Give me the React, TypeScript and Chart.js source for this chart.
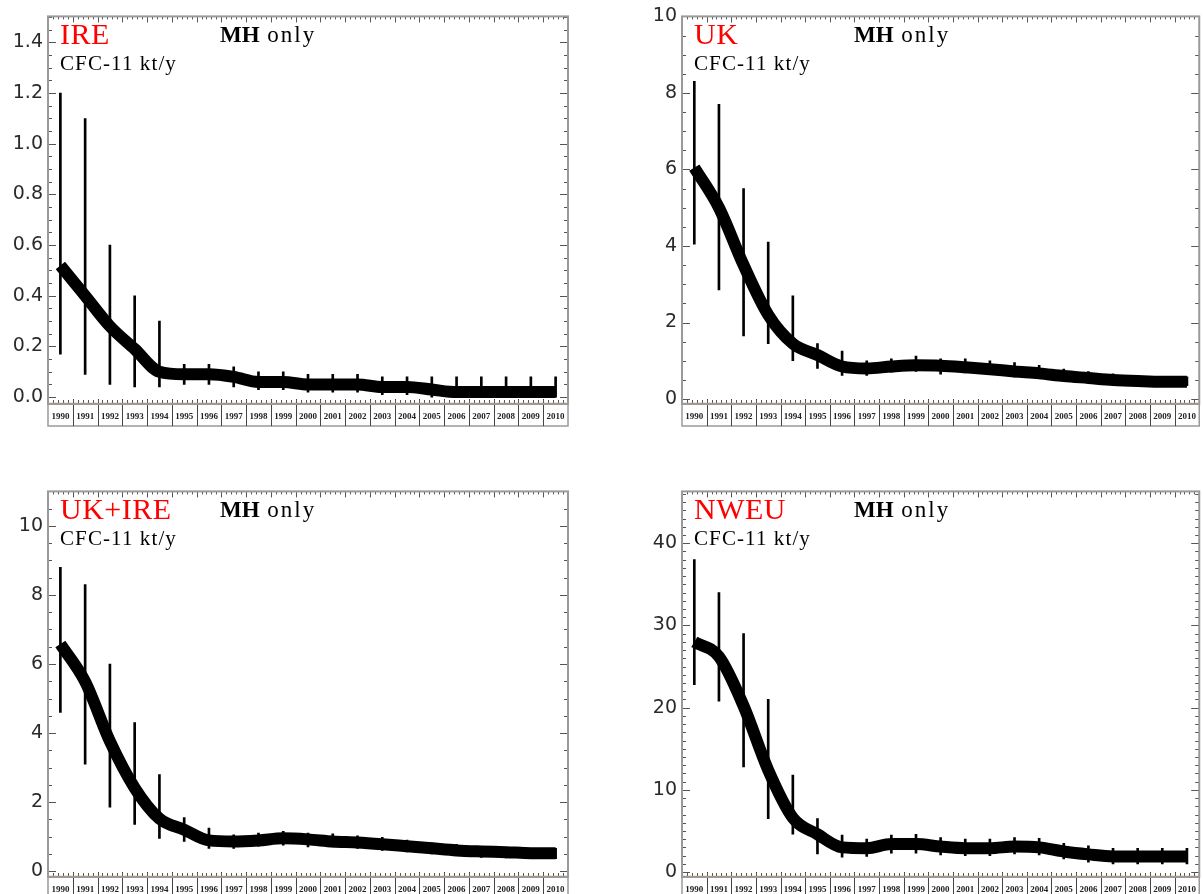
import React, { useEffect, useRef } from "react";
import { Chart, registerables } from "chart.js";

Chart.register(...registerables);

// ---------- data ----------
const years = [1990, 1991, 1992, 1993, 1994, 1995, 1996, 1997, 1998, 1999, 2000, 2001, 2002, 2003, 2004, 2005, 2006, 2007, 2008, 2009, 2010];

const ireValues = [0.52, 0.40, 0.28, 0.19, 0.10, 0.09, 0.09, 0.08, 0.06, 0.06, 0.05, 0.05, 0.05, 0.04, 0.04, 0.03, 0.02, 0.02, 0.02, 0.02, 0.02];
const ireLow = [0.17, 0.09, 0.05, 0.04, 0.04, 0.05, 0.05, 0.04, 0.03, 0.03, 0.02, 0.02, 0.02, 0.01, 0.01, 0.0, 0.0, 0.0, 0.0, 0.0, 0.0];
const ireHigh = [1.20, 1.10, 0.60, 0.40, 0.30, 0.13, 0.13, 0.12, 0.10, 0.10, 0.09, 0.09, 0.09, 0.08, 0.08, 0.08, 0.08, 0.08, 0.08, 0.08, 0.08];

const ukValues = [6.05, 5.0, 3.5, 2.2, 1.45, 1.15, 0.85, 0.8, 0.85, 0.88, 0.87, 0.83, 0.78, 0.72, 0.67, 0.6, 0.55, 0.5, 0.47, 0.45, 0.45];
const ukLow = [4.05, 2.85, 1.65, 1.45, 1.0, 0.8, 0.62, 0.62, 0.7, 0.72, 0.65, 0.68, 0.65, 0.58, 0.55, 0.5, 0.45, 0.4, 0.35, 0.35, 0.35];
const ukHigh = [8.3, 7.7, 5.5, 4.1, 2.7, 1.45, 1.25, 1.0, 1.05, 1.12, 1.05, 1.05, 1.0, 0.95, 0.88, 0.78, 0.72, 0.66, 0.6, 0.58, 0.58];

const ukIreValues = [6.58, 5.49, 3.76, 2.41, 1.52, 1.2, 0.89, 0.86, 0.89, 0.95, 0.92, 0.86, 0.83, 0.78, 0.72, 0.66, 0.6, 0.57, 0.55, 0.52, 0.52];
const ukIreLow = [4.6, 3.1, 1.85, 1.35, 0.95, 0.86, 0.66, 0.66, 0.72, 0.75, 0.7, 0.7, 0.66, 0.6, 0.56, 0.5, 0.45, 0.4, 0.38, 0.36, 0.36];
const ukIreHigh = [8.8, 8.3, 6.0, 4.3, 2.8, 1.55, 1.25, 1.05, 1.1, 1.15, 1.1, 1.08, 1.02, 0.98, 0.9, 0.82, 0.78, 0.72, 0.68, 0.66, 0.66];

const nweuValues = [28.0, 26.2, 20.2, 12.4, 6.6, 4.6, 3.0, 2.9, 3.4, 3.4, 3.1, 2.9, 2.9, 3.1, 3.0, 2.5, 2.15, 1.9, 1.9, 1.9, 1.9];
const nweuLow = [22.8, 20.8, 12.8, 6.5, 4.6, 2.2, 1.8, 1.9, 2.3, 2.3, 2.1, 2.0, 2.0, 2.2, 2.1, 1.6, 1.2, 1.0, 1.0, 1.0, 1.0];
const nweuHigh = [38, 34, 29, 21, 11.8, 6.5, 4.5, 4.0, 4.5, 4.6, 4.2, 4.0, 4.0, 4.2, 4.1, 3.5, 3.2, 2.9, 2.9, 2.9, 2.9];

const ireTicks = [0, 0.2, 0.4, 0.6, 0.8, 1.0, 1.2, 1.4];
const ukTicks = [0, 2, 4, 6, 8, 10];
const ukIreTicks = [0, 2, 4, 6, 8, 10];
const nweuTicks = [0, 10, 20, 30, 40];

const regionNames = ["IRE", "UK", "UK+IRE", "NWEU"];
const subtitle = "CFC-11 kt/y";

// ---------- frame plugin ----------
const STRIP = 22;

const framePlugin = {
  id: "frame",
  afterDraw(chart: any, _args: any, opts: any) {
    const { ctx, chartArea, scales } = chart;
    const { left, right, top, bottom } = chartArea;
    const x = scales.x;
    const y = scales.y;
    const line = (x1: number, y1: number, x2: number, y2: number) => {
      ctx.beginPath();
      ctx.moveTo(x1, y1);
      ctx.lineTo(x2, y2);
      ctx.stroke();
    };
    ctx.save();
    // label strip
    ctx.strokeStyle = "#9a9a9a";
    ctx.lineWidth = 1.5;
    ctx.strokeRect(left, bottom, right - left, STRIP);
    // separators
    ctx.strokeStyle = "#444";
    ctx.lineWidth = 1;
    for (let b = years[0] + 0.5; b < years[years.length - 1]; b += 1) {
      const px = Math.round(x.getPixelForValue(b)) + 0.5;
      line(px, bottom - 5, px, bottom + STRIP);
    }
    // top / bottom small ticks
    ctx.strokeStyle = "#555";
    const start = years[0] - 0.5;
    const n = years.length * 5;
    for (let k = 0; k <= n; k++) {
      const v = start + k * 0.2;
      const px = Math.round(x.getPixelForValue(v)) + 0.5;
      const len = k % 5 === 0 ? 6 : 3;
      line(px, top, px, top + len);
      line(px, bottom - 1, px, bottom - 4);
    }
    // orange baseline
    ctx.strokeStyle = "#e8973f";
    ctx.lineWidth = 1.5;
    line(left, bottom - 0.5, right, bottom - 0.5);
    // y ticks left and right
    ctx.strokeStyle = "#555";
    ctx.lineWidth = 1;
    const { major, minor } = opts;
    const first = Math.ceil(y.min / minor - 1e-9);
    const last = Math.floor(y.max / minor + 1e-9);
    for (let i = first; i <= last; i++) {
      const v = i * minor;
      const py = Math.round(y.getPixelForValue(v)) + 0.5;
      const r = v / major;
      const isMajor = Math.abs(r - Math.round(r)) < 1e-6;
      const len = isMajor ? 8 : 4;
      line(left, py, left + len, py);
      line(right, py, right - len, py);
    }
    // box
    ctx.strokeStyle = "#9a9a9a";
    ctx.lineWidth = 2;
    ctx.strokeRect(left, top, right - left, bottom - top);
    ctx.restore();
  },
};

// ---------- panel ----------
type PanelProps = {
  name: string;
  values: number[];
  low: number[];
  high: number[];
  ticks: number[];
  yMin: number;
  yMax: number;
  major: number;
  minor: number;
  decimals: number;
  canvasLeft: number;
  canvasTop: number;
  width: number;
  padRight: number;
  padBottom: number;
};

const BOX_LEFT = 48;
const BOX_TOP = 13;

function Panel(p: PanelProps) {
  const ref = useRef<HTMLCanvasElement | null>(null);
  useEffect(() => {
    if (!ref.current) return;
    const chart = new Chart(ref.current, {
      type: "line",
      data: {
        datasets: [
          {
            type: "line",
            data: years.map((x, i) => ({ x, y: p.values[i] })),
            borderColor: "#000",
            backgroundColor: "#000",
            borderWidth: 12,
            pointRadius: 0,
            cubicInterpolationMode: "monotone",
            borderJoinStyle: "round",
            borderCapStyle: "butt",
            fill: false,
            order: 0,
          } as any,
          {
            type: "bar",
            data: years.map((x, i) => ({ x, y: [p.low[i], p.high[i]] })),
            backgroundColor: "#000",
            borderWidth: 0,
            barThickness: 2,
            grouped: false,
            order: 1,
          } as any,
        ],
      },
      options: {
        responsive: false,
        animation: false,
        devicePixelRatio: 1,
        layout: { padding: { top: BOX_TOP, right: p.padRight, left: 0, bottom: p.padBottom } },
        plugins: {
          legend: { display: false },
          tooltip: { enabled: false },
          frame: { major: p.major, minor: p.minor },
        } as any,
        scales: {
          x: {
            type: "linear",
            min: years[0] - 0.5,
            max: years[years.length - 1] + 0.5,
            offset: false,
            grid: { display: false, drawTicks: false },
            border: { display: false },
            afterBuildTicks: (s: any) => {
              s.ticks = years.map((v) => ({ value: v }));
            },
            afterFit: (s: any) => {
              s.height = STRIP;
            },
            ticks: {
              autoSkip: false,
              maxRotation: 0,
              minRotation: 0,
              padding: 7,
              font: { family: "Liberation Serif", size: 9, weight: "bold" },
              color: "#222",
              callback: (v: any) => String(v),
            },
          },
          y: {
            type: "linear",
            min: p.yMin,
            max: p.yMax,
            grid: { display: false, drawTicks: false },
            border: { display: false },
            afterBuildTicks: (s: any) => {
              s.ticks = p.ticks.map((v) => ({ value: v }));
            },
            afterFit: (s: any) => {
              s.width = BOX_LEFT;
            },
            ticks: {
              padding: 5,
              font: { family: "DejaVu Sans", size: 19 },
              color: "#2a2a2a",
              callback: (v: any) => Number(v).toFixed(p.decimals),
            },
          },
        },
      } as any,
      plugins: [framePlugin],
    });
    return () => chart.destroy();
  }, []);

  const bl = p.canvasLeft + BOX_LEFT;
  const bt = p.canvasTop + BOX_TOP;
  const serif = '"Liberation Serif", "Times New Roman", serif';
  return (
    <>
      <canvas
        ref={ref}
        width={p.width}
        height={440}
        style={{ position: "absolute", left: p.canvasLeft, top: p.canvasTop, width: p.width, height: 440 }}
      />
      <div
        style={{
          position: "absolute",
          left: bl + 12,
          top: bt + 6,
          font: `30px ${serif}`,
          lineHeight: 1,
          color: "#ff0000",
          letterSpacing: "0.5px",
          whiteSpace: "nowrap",
        }}
      >
        {p.name}
      </div>
      <div
        style={{
          position: "absolute",
          left: bl + 172,
          top: bt + 10,
          font: `23px ${serif}`,
          lineHeight: 1,
          color: "#000",
          whiteSpace: "nowrap",
        }}
      >
        <b>MH</b>
        <span style={{ letterSpacing: "2px" }}> only</span>
      </div>
      <div
        style={{
          position: "absolute",
          left: bl + 12,
          top: bt + 40,
          font: `21px ${serif}`,
          lineHeight: 1,
          color: "#000",
          letterSpacing: "1.1px",
          whiteSpace: "nowrap",
        }}
      >
        {subtitle}
      </div>
    </>
  );
}

export default function App() {
  return (
    <div
      style={{
        position: "fixed",
        left: 0,
        top: 0,
        width: 1203,
        height: 894,
        overflow: "hidden",
        background: "#fff",
      }}
    >
      <Panel
        name={regionNames[0]}
        values={ireValues}
        low={ireLow}
        high={ireHigh}
        ticks={ireTicks}
        yMin={-0.027}
        yMax={1.503}
        major={0.2}
        minor={0.05}
        decimals={1}
        canvasLeft={0}
        canvasTop={0}
        width={600}
        padRight={32}
        padBottom={14}
      />
      <Panel
        name={regionNames[1]}
        values={ukValues}
        low={ukLow}
        high={ukHigh}
        ticks={ukTicks}
        yMin={-0.13}
        yMax={10.0}
        major={2}
        minor={0.5}
        decimals={0}
        canvasLeft={634}
        canvasTop={0}
        width={569}
        padRight={3}
        padBottom={14}
      />
      <Panel
        name={regionNames[2]}
        values={ukIreValues}
        low={ukIreLow}
        high={ukIreHigh}
        ticks={ukIreTicks}
        yMin={-0.17}
        yMax={11.0}
        major={2}
        minor={0.5}
        decimals={0}
        canvasLeft={0}
        canvasTop={475}
        width={600}
        padRight={32}
        padBottom={16}
      />
      <Panel
        name={regionNames[3]}
        values={nweuValues}
        low={nweuLow}
        high={nweuHigh}
        ticks={nweuTicks}
        yMin={-0.6}
        yMax={46.3}
        major={10}
        minor={1}
        decimals={0}
        canvasLeft={634}
        canvasTop={475}
        width={569}
        padRight={3}
        padBottom={16}
      />
    </div>
  );
}
